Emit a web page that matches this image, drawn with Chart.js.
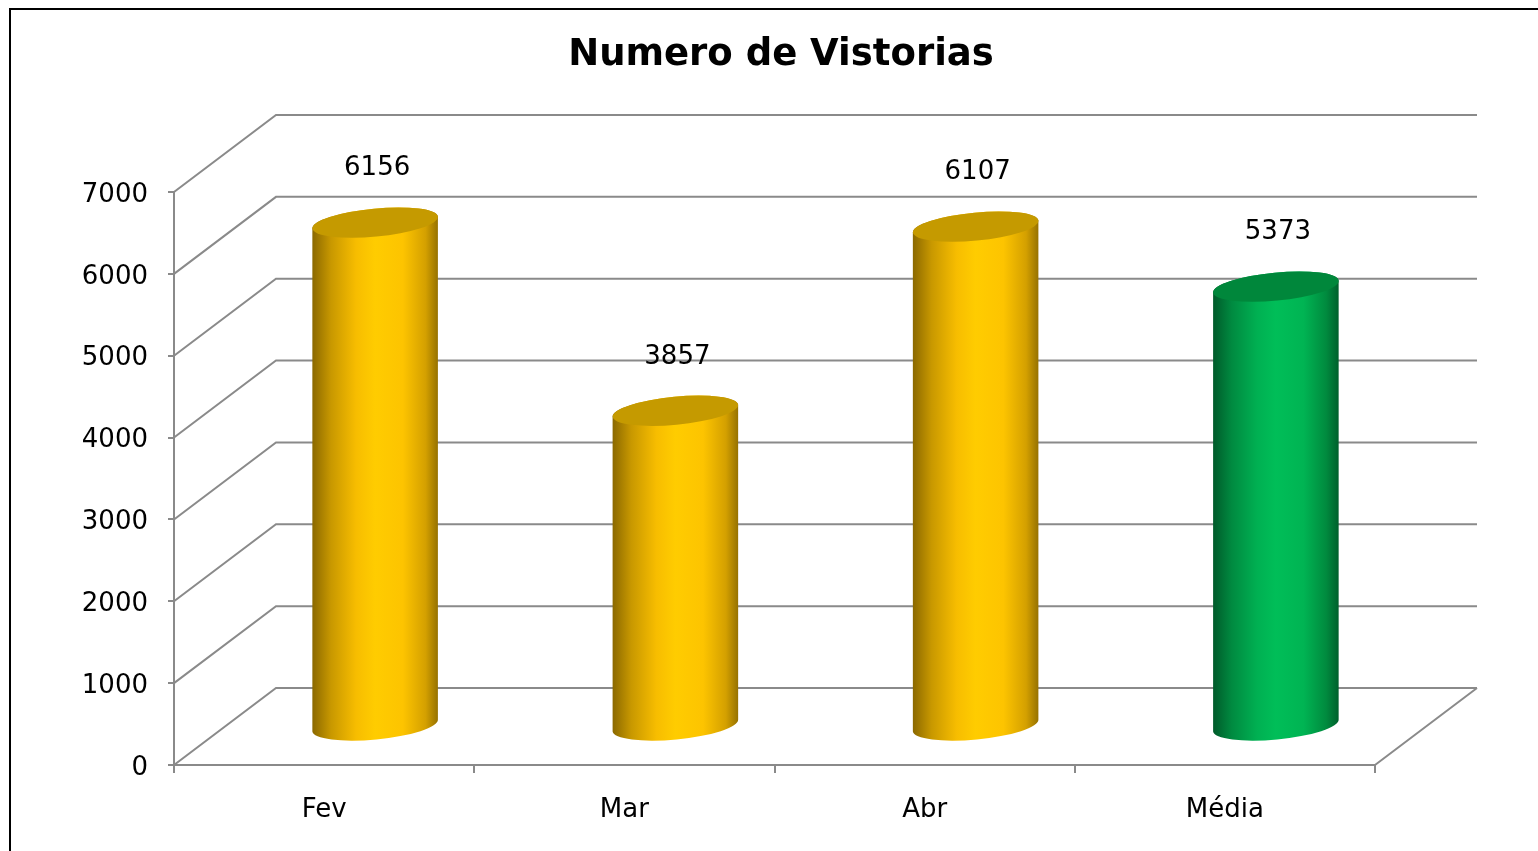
<!DOCTYPE html>
<html lang="pt">
<head>
<meta charset="UTF-8">
<title>Numero de Vistorias</title>
<style>
    body {
        margin: 0;
        background: #fff;
    }
    #chart-container {
        width: 1538px;
        height: 851px;
    }
</style>
</head>
<body>
<div id="chart-container">
    <canvas id="vistoriasChart"></canvas>
</div>

<script src="https://cdn.jsdelivr.net/npm/chart.js"></script>
<script>
    // dados do gráfico
    const meses = ['Fev', 'Mar', 'Abr', 'Média'];
    const vistorias = [6156, 3857, 6107, 5373];
    const yTicks = [0, 1000, 2000, 3000, 4000, 5000, 6000, 7000];

    // cores dos cilindros (o último, a média, é verde)
    const coresCilindro = ['gold', 'gold', 'gold', 'green'];

    const GRID = '#8a8a8a';
    const DEPTH_X = 102;  // profundidade do "3D"
    const DEPTH_Y = -77;

    Chart.defaults.font.family = '"DejaVu Sans", Verdana, sans-serif';
    Chart.defaults.color = '#000';

    function gradiente(ctx, x0, x1, tipo) {
        const g = ctx.createLinearGradient(x0, 0, x1, 0);
        if (tipo === 'green') {
            g.addColorStop(0, '#005a2a');
            g.addColorStop(0.15, '#008a40');
            g.addColorStop(0.35, '#00b052');
            g.addColorStop(0.5, '#00be58');
            g.addColorStop(0.72, '#00b453');
            g.addColorStop(0.9, '#008a3e');
            g.addColorStop(1, '#005f2c');
        } else {
            g.addColorStop(0, '#8a6800');
            g.addColorStop(0.15, '#c89800');
            g.addColorStop(0.35, '#f7bd00');
            g.addColorStop(0.5, '#ffcc00');
            g.addColorStop(0.72, '#fdc400');
            g.addColorStop(0.9, '#d4a000');
            g.addColorStop(1, '#957100');
        }
        return g;
    }

    // moldura, paredes e piso em perspectiva
    const fundo3D = {
        id: 'fundo3D',
        beforeDraw(chart) {
            const ctx = chart.ctx;
            ctx.save();
            ctx.strokeStyle = '#000';
            ctx.lineWidth = 2;
            ctx.strokeRect(10, 9, 2000, 2000);
            ctx.restore();
        },
        beforeDatasetsDraw(chart) {
            const ctx = chart.ctx;
            const a = chart.chartArea;
            const y = chart.scales.y;
            ctx.save();
            ctx.strokeStyle = GRID;
            ctx.lineWidth = 2;
            ctx.beginPath();
            yTicks.forEach(v => {
                const py = y.getPixelForValue(v);
                ctx.moveTo(a.left, py);
                ctx.lineTo(a.left + DEPTH_X, py + DEPTH_Y);
                ctx.lineTo(a.right + DEPTH_X, py + DEPTH_Y);
            });
            ctx.moveTo(a.right, a.bottom);
            ctx.lineTo(a.right + DEPTH_X, a.bottom + DEPTH_Y);
            ctx.stroke();
            ctx.restore();
        }
    };

    // cilindros desenhados a partir das barras do Chart.js
    const cilindros = {
        id: 'cilindros',
        afterDatasetsDraw(chart) {
            const ctx = chart.ctx;
            const meta = chart.getDatasetMeta(0);
            const dx = DEPTH_X / 2, dy = DEPTH_Y / 2;
            const ry = 14, rot = -0.095;
            ctx.save();
            meta.data.forEach((bar, i) => {
                const cx = bar.x + dx;
                const top = bar.y + dy;
                const base = bar.base + dy;
                const rx = bar.width / 2;
                const cos = Math.cos(rot), sin = Math.sin(rot);
                const tipo = coresCilindro[i];

                // corpo
                ctx.beginPath();
                ctx.moveTo(cx - rx * cos, top - rx * sin);
                ctx.lineTo(cx - rx * cos, base - rx * sin);
                ctx.ellipse(cx, base, rx, ry, rot, Math.PI, 0, true);
                ctx.lineTo(cx + rx * cos, top + rx * sin);
                ctx.ellipse(cx, top, rx, ry, rot, 0, Math.PI, true);
                ctx.closePath();
                ctx.fillStyle = gradiente(ctx, cx - rx, cx + rx, tipo);
                ctx.fill();

                // tampa
                ctx.beginPath();
                ctx.ellipse(cx, top, rx, ry, rot, 0, Math.PI * 2);
                ctx.fillStyle = tipo === 'green' ? '#00873b' : '#c59a00';
                ctx.fill();

                // rótulo do valor
                ctx.fillStyle = '#000';
                ctx.font = '26px "DejaVu Sans", Verdana, sans-serif';
                ctx.textAlign = 'center';
                ctx.textBaseline = 'middle';
                ctx.fillText(vistorias[i], cx + 2, top - 54);
            });
            ctx.restore();
        }
    };

    const ctx = document.getElementById('vistoriasChart').getContext('2d');
    new Chart(ctx, {
        type: 'bar',
        data: {
            labels: meses,
            datasets: [{
                data: vistorias,
                backgroundColor: 'rgba(0,0,0,0)',
                barPercentage: 0.84,
                categoryPercentage: 0.5,
                clip: false
            }]
        },
        options: {
            responsive: true,
            maintainAspectRatio: false,
            animation: false,
            layout: {
                padding: { left: 24, top: 0, right: 0, bottom: 0 }
            },
            plugins: {
                legend: { display: false },
                tooltip: { enabled: false },
                title: {
                    display: true,
                    text: 'Numero de Vistorias',
                    color: '#000',
                    font: { size: 37, weight: 'bold', lineHeight: 1.2 },
                    padding: { top: 33, bottom: 114.6 }
                }
            },
            scales: {
                x: {
                    afterFit(scale) { scale.height = 86; },
                    grid: {
                        offset: true,
                        drawOnChartArea: false,
                        drawTicks: true,
                        tickLength: 8,
                        color: GRID,
                        lineWidth: 2
                    },
                    border: { display: true, color: GRID, width: 2 },
                    ticks: {
                        font: { size: 26 },
                        color: '#000',
                        padding: 22
                    }
                },
                y: {
                    min: 0,
                    max: 7000,
                    afterFit(scale) { scale.width = 150; },
                    afterBuildTicks(scale) {
                        scale.ticks = yTicks.map(v => ({ value: v }));
                    },
                    grid: {
                        drawOnChartArea: false,
                        drawTicks: true,
                        tickLength: 6,
                        color: GRID,
                        lineWidth: 2
                    },
                    border: { display: true, color: GRID, width: 2 },
                    ticks: {
                        font: { size: 26 },
                        color: '#000',
                        padding: 20,
                        labelOffset: 3,
                        callback: v => String(v)
                    }
                },
                // eixo vazio à direita: reserva o espaço da profundidade
                direita: {
                    position: 'right',
                    afterFit(scale) { scale.width = 163; },
                    grid: { display: false },
                    border: { display: false },
                    ticks: { display: false }
                }
            }
        },
        plugins: [fundo3D, cilindros]
    });
</script>
</body>
</html>
